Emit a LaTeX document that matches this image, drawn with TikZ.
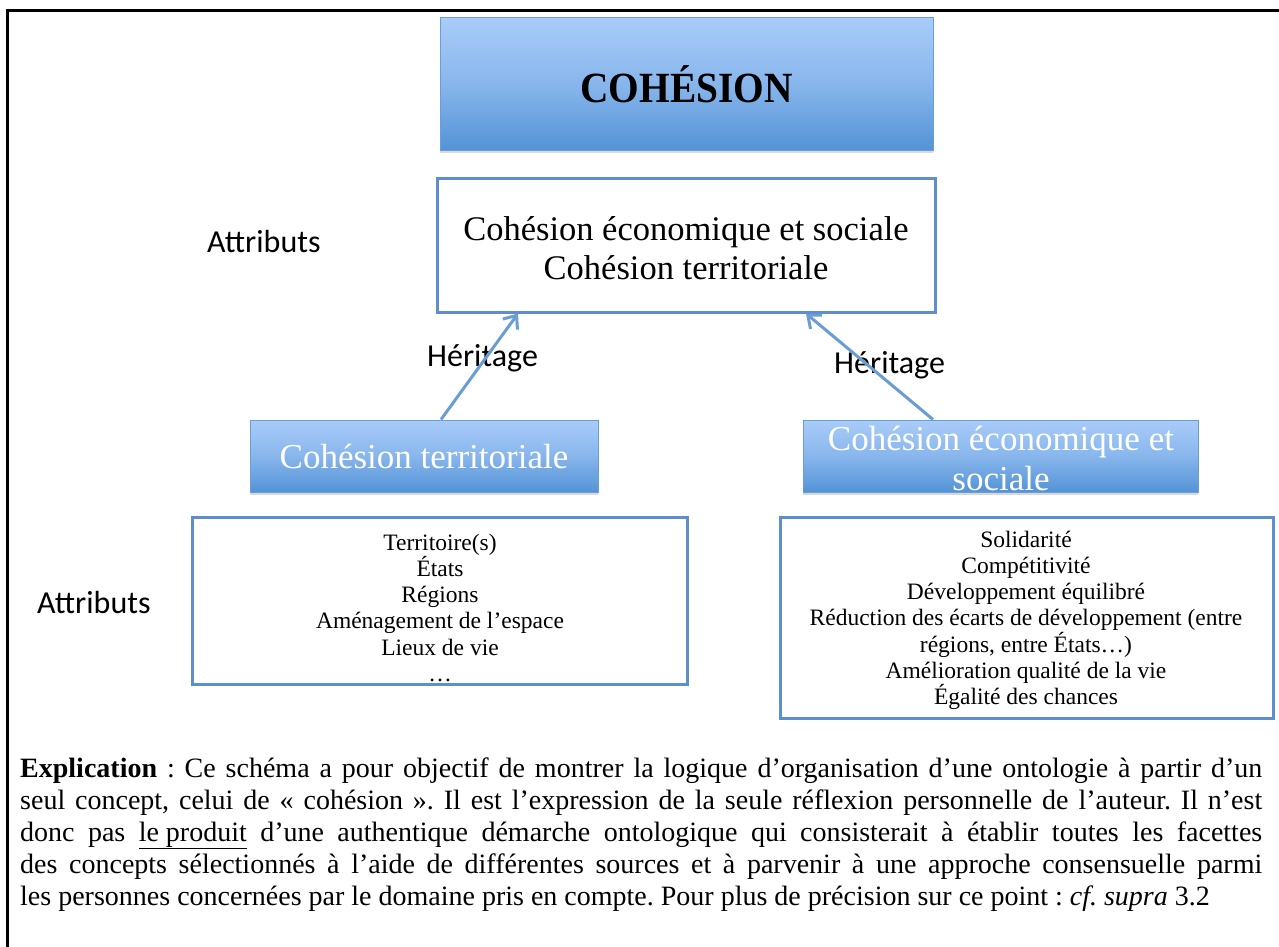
\documentclass[tikz,border=0pt]{standalone}
\usepackage{fontspec}
\setmainfont{Liberation Serif}
\newfontfamily\calib{Carlito}
\usetikzlibrary{arrows.meta,shadows,calc}
\definecolor{gtop}{HTML}{A9CCF9}
\definecolor{gmid}{HTML}{88B6EC}
\definecolor{gbot}{HTML}{5393D6}
\definecolor{gedge}{HTML}{6A9EDA}
\definecolor{frameblue}{HTML}{5D8FCF}
\definecolor{arrowblue}{HTML}{6B9DD5}
\frenchspacing
\begin{document}
\begin{tikzpicture}[x=1pt,y=-1pt,
  bluebox/.style={draw=gedge, line width=1pt, top color=gtop, bottom color=gbot, middle color=gmid, inner sep=0pt,
    drop shadow={shadow xshift=0pt, shadow yshift=-3pt, opacity=0.3}},
  attrbox/.style={draw=frameblue, line width=3pt, fill=white, inner sep=0pt},
  lab/.style={inner sep=0pt, anchor=base west, font=\calib\fontsize{32}{38}\selectfont},
  serifmid/.style={font=\fontsize{34.5}{39}\selectfont},
  listtxt/.style={inner sep=0pt, anchor=base, font=\fontsize{23.5}{26.3}\selectfont},
  conn/.style={draw=arrowblue, line width=3pt, -{Straight Barb[length=11pt,width=18pt]}}
]
\useasboundingbox (0,0) rectangle (1279,947);
% outer frame
\draw[line width=3pt] (7,947) -- (7,11) -- (1279,11);

% top concept
\node[bluebox, minimum width=493pt, minimum height=132pt,
  font=\fontsize{41}{48}\selectfont\bfseries] (coh) at (686.5,84) {\scalebox{0.96}[1.05]{COHÉSION}};

% top attributes
\node[attrbox, minimum width=498pt, minimum height=134pt] (attr) at (686,245) {};
\node[inner sep=0pt, anchor=base, serifmid] (attrtxt) at (686,240)
  {\parbox[t]{480pt}{\centering Cohésion économique et sociale\\Cohésion territoriale}};

% sub concepts
\node[bluebox, minimum width=348pt, minimum height=72pt, text=white,
  font=\fontsize{35}{40}\selectfont] (lcoh) at (424,456) {Cohésion territoriale};
\node[bluebox, minimum width=395pt, minimum height=72pt] (rcoh) at (1000.5,456) {};
\node[inner sep=0pt, anchor=base, text=white, font=\fontsize{35}{40}\selectfont] (rcohtxt) at (1001,450)
  {\parbox[t]{395pt}{\centering Cohésion économique et\\sociale}};

% lower attribute boxes
\node[attrbox, minimum width=495pt, minimum height=167pt] (lattr) at (439.5,600.5) {};
\node[listtxt] (lattrtxt) at (440,550)
  {\parbox[t]{480pt}{\centering Territoire(s)\\États\\Régions\\Aménagement de l’espace\\Lieux de vie\\…}};
\node[attrbox, minimum width=493pt, minimum height=201pt] (rattr) at (1026.5,617.5) {};
\node[listtxt] (rattrtxt) at (1026,547)
  {\parbox[t]{480pt}{\centering Solidarité\\Compétitivité\\Développement équilibré\\Réduction des écarts de développement (entre\\régions, entre États…)\\Amélioration qualité de la vie\\Égalité des chances}};

% labels
\node[lab] (attrlab1) at (207,252) {Attributs};
\node[lab] (attrlab2) at (37,613) {Attributs};
\node[lab] (her1) at (427,366) {Héritage};
\node[lab] (her2) at (834,373) {Héritage};

% connectors
\draw[conn] ([xshift=17pt]lcoh.north) -- ([xshift=-168pt]attr.south);
\draw[conn] ([xshift=-67.5pt]rcoh.north) -- ([xshift=120pt]attr.south);

% explanation
\node[anchor=base west, inner sep=0pt, font=\fontsize{28}{32}\selectfont] (expl) at (20,777)
{\parbox[t]{1242pt}{%
\makebox[1242pt][s]{\textbf{Explication} : Ce schéma a pour objectif de montrer la logique d’organisation d’une ontologie à partir d’un}\par
\makebox[1242pt][s]{seul concept, celui de «~cohésion~». Il est l’expression de la seule réflexion personnelle de l’auteur. Il n’est}\par
\makebox[1242pt][s]{donc pas \underline{le produit} d’une authentique démarche ontologique qui consisterait à établir toutes les facettes}\par
\makebox[1242pt][s]{des concepts sélectionnés à l’aide de différentes sources et à parvenir à une approche consensuelle parmi}\par
\makebox[1242pt][l]{les personnes concernées par le domaine pris en compte. Pour plus de précision sur ce point : \textit{cf. supra} 3.2}}};
\end{tikzpicture}
\end{document}
